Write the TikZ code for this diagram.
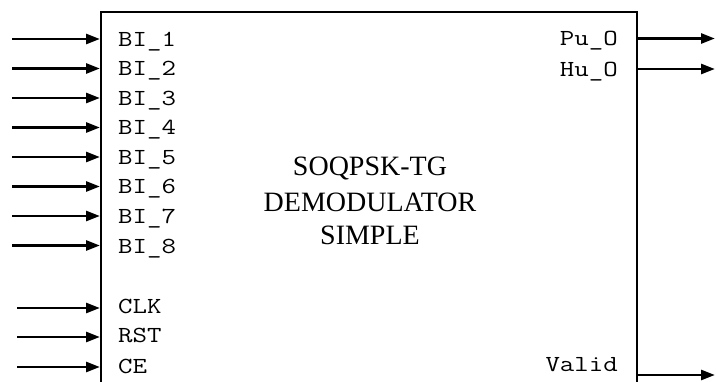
\documentclass[tikz,border=0pt]{standalone}
\usepackage{fontspec}
\setmainfont{Liberation Serif}
\newfontfamily\monof[FakeStretch=1.22]{Latin Modern Mono}
\usetikzlibrary{arrows.meta}
\begin{document}
\begin{tikzpicture}[x=1pt,y=1pt,
  sig/.style={line width=2.8pt,-{Triangle[length=14pt,width=10pt]}},
  inlab/.style={anchor=base west,inner sep=0pt,font=\monof\fontsize{23}{23}\selectfont},
  outlab/.style={anchor=base east,inner sep=0pt,font=\monof\fontsize{23}{23}\selectfont},
  titletext/.style={anchor=base,inner sep=0pt,font=\fontsize{28}{34}\selectfont}]
\useasboundingbox (0,0) rectangle (716,381);
\clip (0,0) rectangle (716,381);
\node[draw,line width=2pt,minimum width=536pt,minimum height=400pt,anchor=north west,inner sep=0pt] (blk) at (100,370) {};
% bus inputs
\foreach \n/\y in {1/342,2/312.5,3/283,4/253.5,5/224,6/194.5,7/165,8/135.5}{
  \coordinate (s\n) at (12,\y);
  \draw[sig] (s\n) -- (s\n -| blk.west);
  \node[inlab] (l\n) at (118,\y-7.5) {BI\_\n};
}
% control inputs
\foreach \nm/\y/\b in {CLK/73/67.5,RST/44/38.5,CE/14/8}{
  \coordinate (c\nm) at (17,\y);
  \draw[sig] (c\nm) -- (c\nm -| blk.west);
  \node[inlab] (lab\nm) at (118,\b) {\nm};
}
% outputs
\foreach \k/\txt/\y/\b in {p/Pu\_O/342.5/335,h/Hu\_O/312/304.5,v/Valid/6/9.5}{
  \coordinate (o\k) at (715,\y);
  \draw[sig] (o\k -| blk.east) -- (o\k);
  \node[outlab] (lo\k) at (618,\b) {\txt};
}
% title
\node[titletext] (t1) at (370,205) {SOQPSK-TG};
\node[titletext] (t2) at (370,169.3) {DEMODULATOR};
\node[titletext] (t3) at (370,136) {SIMPLE};
\end{tikzpicture}
\end{document}
